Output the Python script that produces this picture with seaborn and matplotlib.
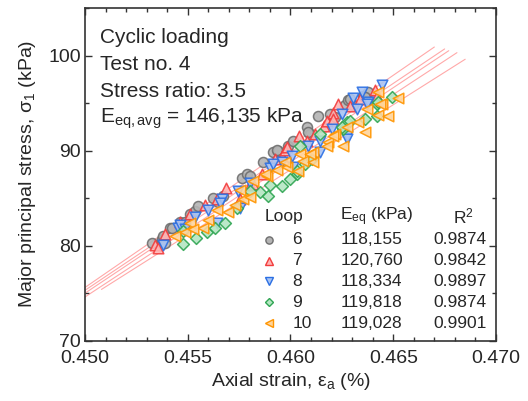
import numpy as np
import pandas as pd
import matplotlib
matplotlib.use("Agg")
import matplotlib.pyplot as plt
import seaborn as sns
from matplotlib.ticker import MultipleLocator

sns.set_style("ticks")
plt.rcParams['font.family'] = ['Liberation Sans', 'DejaVu Sans']
plt.rcParams['mathtext.fontset'] = 'custom'
plt.rcParams['mathtext.rm'] = 'Liberation Sans'
plt.rcParams['mathtext.it'] = 'Liberation Sans:italic'

# ---------------- data ----------------
loops = ["6", "7", "8", "9", "10"]
e_eq_labels = ["118,155", "120,760", "118,334", "119,818", "119,028"]
r2_labels = ["0.9874", "0.9842", "0.9897", "0.9874", "0.9901"]

strain_6 = [0.45326, 0.45375, 0.45389, 0.45414, 0.45462, 0.45511, 0.45535, 0.45550, 0.45647, 0.45672,
            0.45764, 0.45788, 0.45866, 0.45915, 0.45939, 0.45988, 0.46012, 0.46080, 0.46095, 0.46134,
            0.46192, 0.46265, 0.46280, 0.46304, 0.46353, 0.46377,
            0.45380, 0.45423, 0.45803, 0.46217, 0.46290, 0.46363, 0.46085, 0.45934, 0.45623, 0.45487]
stress_6 = [80.3, 80.7, 80.3, 81.9, 82.5, 83.3, 83.6, 84.2, 84.6, 85.2,
            87.1, 87.5, 88.8, 89.8, 90.0, 90.5, 91.0, 92.5, 91.7, 93.6,
            93.8, 94.8, 95.3, 94.8, 95.7, 96.2,
            81.0, 81.9, 87.3, 93.5, 95.4, 95.6, 92.0, 90.1, 85.0, 82.5]

strain_7 = [0.45341, 0.45355, 0.45511, 0.45584, 0.45686, 0.45754, 0.45803, 0.45861, 0.45959, 0.45973,
            0.46041, 0.46080, 0.46119, 0.46163, 0.46178, 0.46207, 0.46231, 0.46290, 0.46411, 0.46421,
            0.46207, 0.45983, 0.45818, 0.45643, 0.45462, 0.45389, 0.45925, 0.46338]
stress_7 = [80.1, 79.8, 83.3, 84.3, 86.1, 84.9, 86.4, 87.5, 89.4, 90.1,
            91.5, 91.0, 91.7, 92.6, 93.1, 94.0, 94.9, 94.7, 96.4, 95.7,
            93.3, 90.4, 86.5, 84.9, 82.5, 81.2, 89.1, 95.4]

strain_8 = [0.45380, 0.45453, 0.45462, 0.45599, 0.45643, 0.45667, 0.45745, 0.45754, 0.45803, 0.45900,
            0.46007, 0.46012, 0.46085, 0.46144, 0.46144, 0.46202, 0.46251, 0.46275, 0.46304, 0.46324,
            0.46348, 0.46377, 0.46445,
            0.45915, 0.45959, 0.45657, 0.45535, 0.46372, 0.46275, 0.45487]
stress_8 = [80.1, 81.9, 82.2, 83.8, 82.4, 84.9, 85.7, 84.0, 86.6, 88.2,
            89.4, 88.3, 90.5, 91.0, 89.9, 92.3, 93.8, 91.5, 95.5, 94.4,
            96.2, 95.1, 96.9,
            88.6, 88.8, 84.5, 83.0, 94.9, 91.2, 81.7]

strain_9 = [0.45477, 0.45477, 0.45540, 0.45594, 0.45681, 0.45740, 0.45852, 0.45891, 0.45900, 0.45959,
            0.46032, 0.46032, 0.46071, 0.46046, 0.46144, 0.46255, 0.46275, 0.46363, 0.46421, 0.46421,
            0.46494,
            0.45803, 0.46290, 0.46251, 0.46426, 0.45633, 0.45998, 0.46105]
stress_9 = [80.2, 81.5, 80.8, 81.4, 82.4, 84.0, 85.6, 85.2, 86.4, 86.3,
            87.5, 87.8, 88.6, 90.5, 91.7, 92.3, 93.0, 93.3, 93.6, 94.9,
            95.6,
            85.7, 93.1, 92.5, 95.1, 81.9, 87.0, 89.1]

strain_10 = [0.45438, 0.45487, 0.45574, 0.45643, 0.45696, 0.45754, 0.45818, 0.45886, 0.45935, 0.45983,
             0.46037, 0.46046, 0.46061, 0.46110, 0.46110, 0.46183, 0.46217, 0.46255, 0.46275, 0.46329,
             0.46363, 0.46372, 0.46426, 0.46426, 0.46445, 0.46474, 0.46523,
             0.45511, 0.45526, 0.45599, 0.45730, 0.45769, 0.45803, 0.45876, 0.45973, 0.46207, 0.46178,
             0.46095, 0.46436]
stress_10 = [81.0, 81.4, 81.9, 83.8, 83.5, 85.9, 86.8, 87.3, 88.0, 88.3,
             87.8, 89.6, 88.9, 89.9, 88.8, 90.9, 91.7, 90.5, 92.5, 93.0,
             92.0, 94.4, 93.7, 96.2, 94.9, 93.6, 95.5,
             82.4, 81.7, 82.7, 84.3, 84.9, 85.1, 87.5, 88.8, 91.5, 90.5,
             89.6, 94.9]

# linear fit lines (stress at strain 0.450, slope kPa per %), and strain range drawn
fit_y0 = [75.6, 75.3, 75.0, 74.6, 74.3]
fit_slope = [1488, 1451, 1441, 1420, 1368]
fit_x_start = [0.4495, 0.4495, 0.4495, 0.4500, 0.4508]
fit_x_end = [0.4670, 0.4675, 0.4677, 0.4681, 0.4685]

strains = [strain_6, strain_7, strain_8, strain_9, strain_10]
stresses = [stress_6, stress_7, stress_8, stress_9, stress_10]

# ---------------- styling ----------------
markers = ["o", "^", "v", "D", "<"]
sizes = [52, 58, 58, 36, 58]
faces = ["#b4b4b4", "#ffb4b4", "#a8c4f4", "#b4e6c2", "#ffd49a"]
edges = ["#6e6e6e", "#f23c3c", "#2b6fe3", "#2fa552", "#ff9500"]

frames = []
for lp, sx, sy in zip(loops, strains, stresses):
    frames.append(pd.DataFrame({"strain": sx, "stress": sy, "loop": lp}))
df = pd.concat(frames, ignore_index=True)

fig = plt.figure(figsize=(5.28, 4.01), dpi=100)
ax = fig.add_axes([85 / 528, 1 - 340.7 / 401, 411 / 528, 332.7 / 401])

# fit lines
for y0, k, xs, xe in zip(fit_y0, fit_slope, fit_x_start, fit_x_end):
    xx = np.array([xs, xe])
    yy = y0 + k * (xx - 0.450)
    ax.plot(xx, yy, color="#ff8c8c", lw=0.8, alpha=0.75, zorder=1)

for i, lp in enumerate(loops):
    sub = df[df["loop"] == lp]
    sns.scatterplot(data=sub, x="strain", y="stress", ax=ax, marker=markers[i],
                    s=sizes[i], color=faces[i], edgecolor=edges[i], linewidth=1.1,
                    alpha=0.9, zorder=3 + i, legend=False)

ax.set_xlim(0.450, 0.470)
ax.set_ylim(70, 105)
ax.xaxis.set_major_locator(MultipleLocator(0.005))
ax.xaxis.set_minor_locator(MultipleLocator(0.001))
ax.yaxis.set_major_locator(MultipleLocator(10))
ax.yaxis.set_minor_locator(MultipleLocator(5))
ax.xaxis.set_major_formatter(matplotlib.ticker.FormatStrFormatter('%.3f'))
ax.tick_params(which="both", direction="in", top=True, right=True, labelsize=14,
               color="#333333")
ax.tick_params(which="major", length=5, width=1)
ax.tick_params(which="minor", length=3, width=1)
ax.tick_params(axis="x", pad=6.5)
ax.tick_params(axis="y", pad=3)
for sp in ax.spines.values():
    sp.set_color("#333333")
    sp.set_linewidth(1.2)

ax.set_xlabel("Axial strain, ε$_\\mathregular{a}$ (%)", fontsize=14, labelpad=3)
ax.set_ylabel("Major principal stress, σ$_\\mathregular{1}$ (kPa)", fontsize=14, labelpad=7)

# annotation block
ann = ["Cyclic loading", "Test no. 4", "Stress ratio: 3.5",
       "E$_\\mathregular{eq,avg}$ = 146,135 kPa"]
ann_y = [0.895, 0.814, 0.733, 0.654]
for t, yy in zip(ann, ann_y):
    ax.text(0.036, yy, t, transform=ax.transAxes, fontsize=15, va="baseline", ha="left")

# table-like legend
hdr_y = 0.372
ax.text(0.436, hdr_y, "Loop", transform=ax.transAxes, fontsize=12.5, va="center", ha="left")
ax.text(0.620, hdr_y, "E$_\\mathregular{eq}$ (kPa)", transform=ax.transAxes, fontsize=12.5,
        va="center", ha="left")
ax.text(0.895, hdr_y, "R$^\\mathregular{2}$", transform=ax.transAxes, fontsize=12.5,
        va="center", ha="left")
row_y = [0.303, 0.241, 0.178, 0.116, 0.053]
for i in range(5):
    ax.plot([0.448], [row_y[i]], marker=markers[i], ms=5.2 if markers[i] != "D" else 4.2,
            mfc=faces[i], mec=edges[i], mew=1.0, transform=ax.transAxes, ls="none",
            clip_on=False, zorder=10)
    ax.text(0.504, row_y[i], loops[i], transform=ax.transAxes, fontsize=12.5,
            va="center", ha="left")
    ax.text(0.622, row_y[i], e_eq_labels[i], transform=ax.transAxes, fontsize=12.5,
            va="center", ha="left")
    ax.text(0.848, row_y[i], r2_labels[i], transform=ax.transAxes, fontsize=12.5,
            va="center", ha="left")

fig.savefig("out.png", dpi=100)
